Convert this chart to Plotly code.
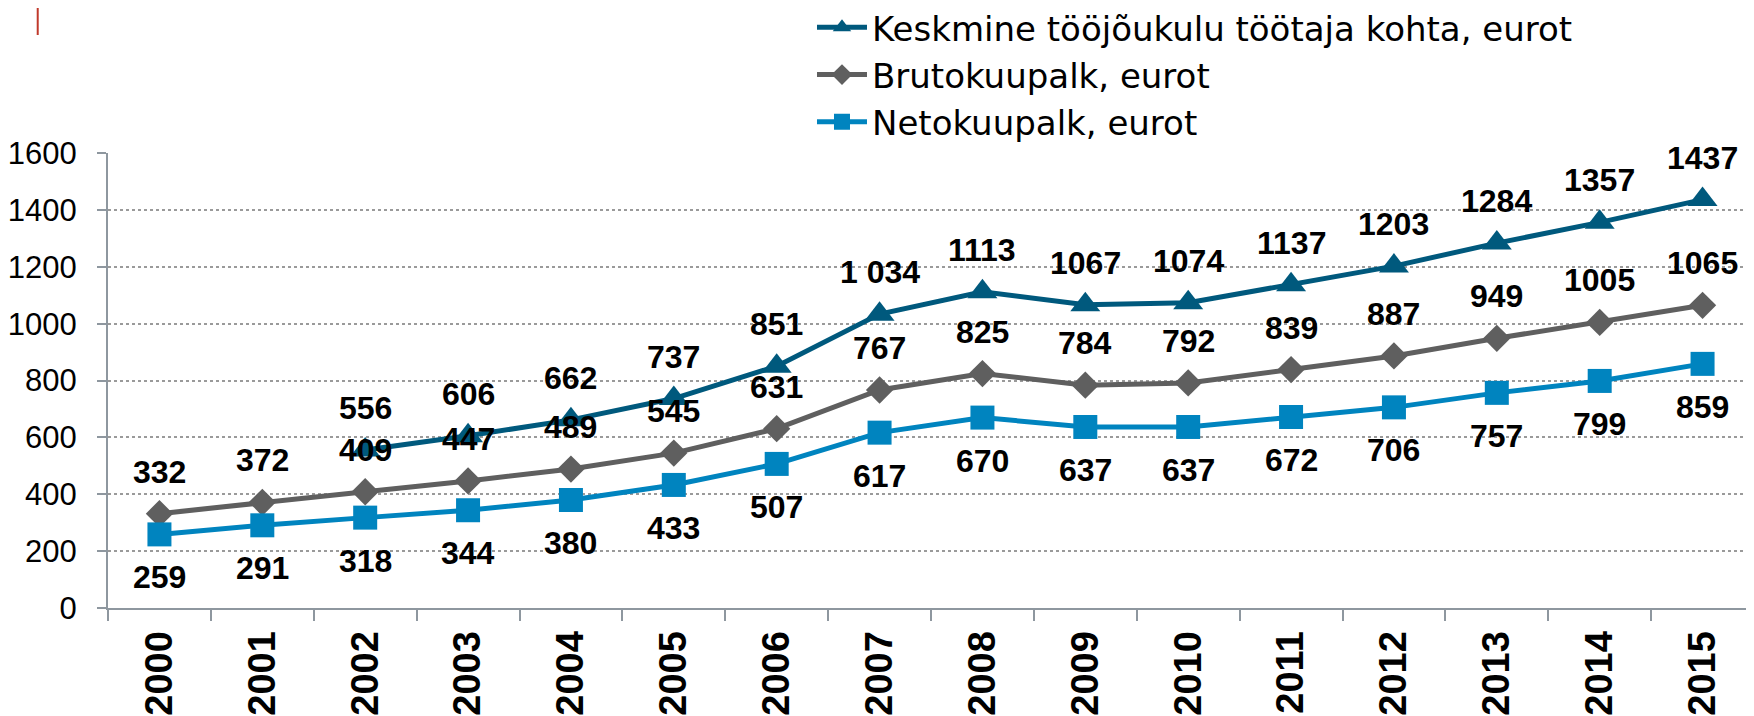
import plotly.graph_objects as go

years = [str(y) for y in range(2000, 2016)]
tooju = [None, None, 556, 606, 662, 737, 851, 1034, 1113, 1067, 1074, 1137, 1203, 1284, 1357, 1437]
bruto = [332, 372, 409, 447, 489, 545, 631, 767, 825, 784, 792, 839, 887, 949, 1005, 1065]
neto = [259, 291, 318, 344, 380, 433, 507, 617, 670, 637, 637, 672, 706, 757, 799, 859]
tooju_labels = [None, None, "556", "606", "662", "737", "851", "1 034", "1113", "1067", "1074",
                "1137", "1203", "1284", "1357", "1437"]

names = ["Keskmine tööjõukulu töötaja kohta, eurot", "Brutokuupalk, eurot", "Netokuupalk, eurot"]
colors = ["#00597D", "#5F5F5F", "#0084BF"]
symbols = ["triangle-up", "diamond", "square"]
sizes = [26, 21, 24]

FONT = "Liberation Sans, Arial, sans-serif"
LBL = dict(family=FONT, size=32, color="#000000", weight="bold")

fig = go.Figure()
for vals, name, c, s, sz in zip([tooju, bruto, neto], names, colors, symbols, sizes):
    fig.add_trace(go.Scatter(
        x=years, y=vals, name=name, mode="lines+markers",
        line=dict(color=c, width=5),
        marker=dict(symbol=s, size=sz, color=c, line=dict(width=0)),
        connectgaps=False,
    ))

annotations = []
for i, (v, t) in enumerate(zip(tooju, tooju_labels)):
    if v is not None:
        annotations.append(dict(x=i, y=v, xref="x", yref="y", text=t, showarrow=False,
                                yshift=42, font=LBL))
for i, v in enumerate(bruto):
    annotations.append(dict(x=i, y=v, xref="x", yref="y", text=str(v), showarrow=False,
                            yshift=42, font=LBL))
for i, v in enumerate(neto):
    annotations.append(dict(x=i, y=v, xref="x", yref="y", text=str(v), showarrow=False,
                            yshift=-43, font=LBL))

# small red mark top-left
shapes = [dict(type="line", xref="paper", yref="paper",
               x0=-0.0427, x1=-0.0427, y0=1.2593, y1=1.33,
               line=dict(color="#C0392B", width=2))]

fig.update_layout(
    width=1746, height=708,
    margin=dict(l=100, r=0, t=145, b=108, autoexpand=False),
    paper_bgcolor="white", plot_bgcolor="white",
    font=dict(family=FONT, color="#000000"),
    showlegend=True,
    legend=dict(x=0.4277, xanchor="left", y=1.339, yanchor="top",
                font=dict(family="DejaVu Sans, sans-serif", size=34, color="#000000"),
                bgcolor="rgba(0,0,0,0)", tracegroupgap=0, itemwidth=50,
                borderwidth=0),
    annotations=annotations,
    shapes=shapes,
    xaxis=dict(
        type="category", range=[-0.5, 15.5],
        showline=True, linecolor="#8E979F", linewidth=2,
        ticks="outside", tickson="boundaries", ticklen=11, tickcolor="#8E979F", tickwidth=2,
        tickangle=-90, showgrid=False, ticklabelstandoff=6,
        tickfont=dict(family=FONT, size=38, color="#000000", weight="bold"),
    ),
    yaxis=dict(
        range=[0, 1601], dtick=200, tick0=0,
        showline=True, linecolor="#8E979F", linewidth=2,
        ticks="outside", ticklen=9, tickcolor="#8E979F", tickwidth=2,
        showgrid=True, gridcolor="#9A9A9A", gridwidth=1.5, griddash="dot",
        zeroline=False, ticklabelstandoff=14,
        tickfont=dict(family=FONT, size=31, color="#000000"),
    ),
)

fig.write_html("out.html")
